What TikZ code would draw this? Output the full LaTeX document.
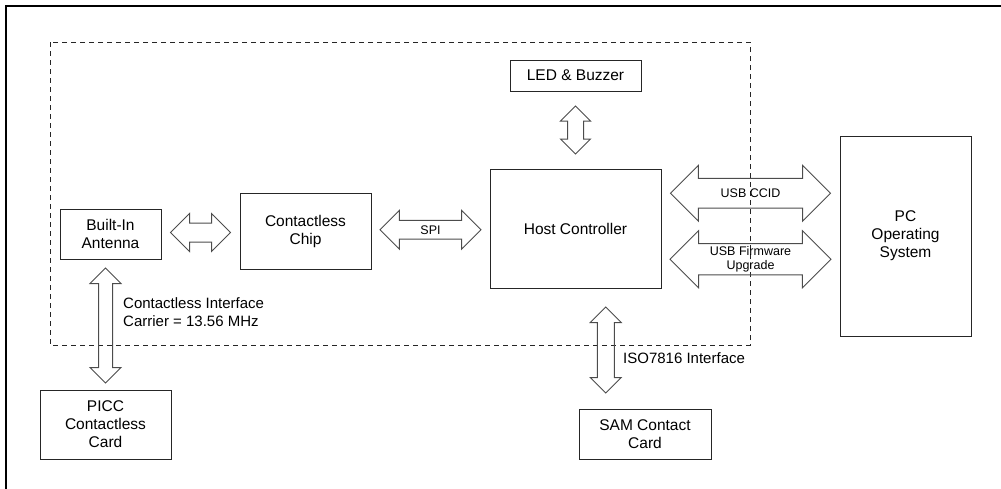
\documentclass[tikz,border=0pt]{standalone}
\usepackage{fontspec}
\setmainfont{Liberation Sans}
\usetikzlibrary{shapes.arrows, positioning, calc}

\begin{document}
\begin{tikzpicture}[x=1pt, y=-1pt,
    box/.style={draw=black!85, line width=1pt, align=center, inner sep=0pt, font=\fontsize{15.5}{18}\selectfont},
    dblarrow/.style 2 args={double arrow, draw=black!70, line width=1pt, inner sep=#1, double arrow head extend=#2, align=center, font=\fontsize{12.5}{14}\selectfont},
    lbl/.style={anchor=west, inner sep=0pt, align=left, font=\fontsize{15}{18}\selectfont},
    fence/.style={draw=black!85, line width=1pt, dash pattern=on 5pt off 4pt}
  ]
  \useasboundingbox (0,0) rectangle (1001,488);
  \draw[line width=2pt] (6,500) -- (6,6) -- (1010,6);

  % reader boundary
  \draw[fence] (50,42) rectangle (750,345);

  \node[box, minimum width=101, minimum height=50] (ant) at (110.5,234) {Built-In\\Antenna};
  \node[box, minimum width=131, minimum height=76] (chip) at (305.5,231) {Contactless\\Chip};
  \node[box, minimum width=171, minimum height=119] (host) at (575.5,228.5) {Host Controller};
  \node[box, minimum width=131, minimum height=31] (led) at (575.5,75.5) {LED \& Buzzer};
  \node[box, minimum width=131, minimum height=200] (pc) at (905.5,236) {PC\\Operating\\System};
  \node[box, minimum width=131, minimum height=69] (picc) at (105.5,424.5) {PICC\\Contactless\\Card};
  \node[box, minimum width=132, minimum height=50] (sam) at (645,434) {SAM Contact\\Card};

  \node[dblarrow={9}{9.5}, minimum height=60] (a-ant) at ($(ant.east)!.5!(chip.west)$) {};
  \node[dblarrow={4.4}{10}, minimum height=101] (a-spi) at ($(chip.east)!.5!(host.west)$) {SPI};
  \node[dblarrow={7.5}{7}, minimum height=48, shape border rotate=90] (a-led) at ($(led.south)!.5!(host.north)$) {};
  \node[dblarrow={9.9}{13}, minimum height=160] (a-ccid) at ($(host.east)!.5!(pc.west)+(0,-39)$) {USB CCID};
  \node[dblarrow={2.2}{13}, minimum height=161] (a-fw) at ($(host.east)!.5!(pc.west)+(0,27)$) {USB Firmware\\Upgrade};
  \node[dblarrow={6.5}{8.5}, minimum height=115, shape border rotate=90] (a-picc) at ($(ant.south)!.5!(picc.north)+(-2.5,1)$) {};
  \node[dblarrow={8}{7}, minimum height=86, shape border rotate=90] (a-sam) at ($(host.south)!.5!(sam.north)+(-4.5,1.5)$) {};

  \node[lbl] (rf) at (123,312.5) {Contactless Interface\\Carrier = 13.56 MHz};
  \node[lbl] (iso) at (623,358) {ISO7816 Interface};
\end{tikzpicture}
\end{document}
